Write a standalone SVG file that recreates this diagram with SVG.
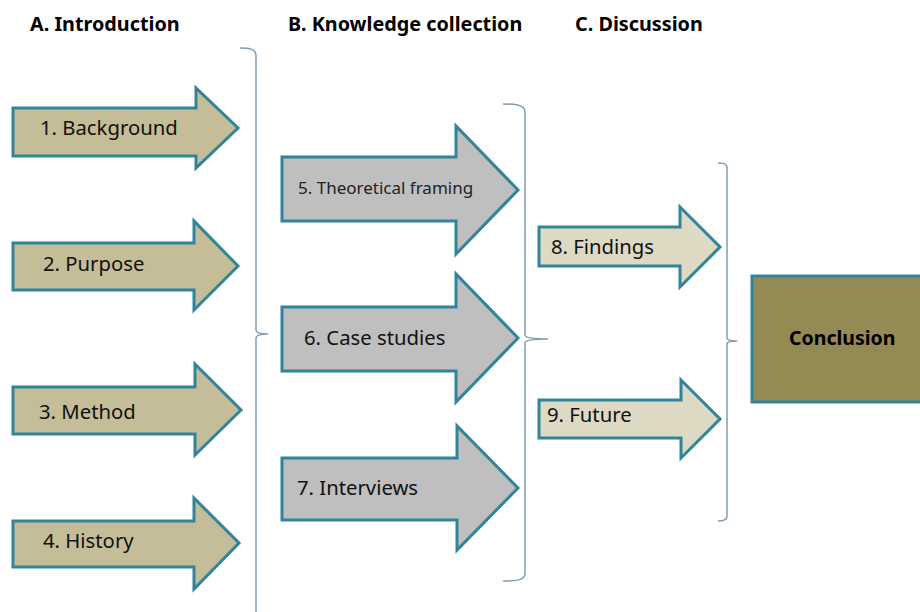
<svg xmlns="http://www.w3.org/2000/svg" width="920" height="612" viewBox="0 0 920 612">
  <style>
    .hdr { font-family: "Noto Sans", "Open Sans", sans-serif; font-weight: bold; font-size: 19.8px; fill: #000; }
    .lbl { font-family: "Noto Sans", "Open Sans", sans-serif; font-size: 20.3px; fill: #111; }
    .lbl-sm { font-family: "Noto Sans", "Open Sans", sans-serif; font-size: 17px; fill: #222; }
    .arrow { stroke: #31849B; stroke-width: 3; stroke-linejoin: miter; }
    .tan { fill: #C4BD97; }
    .grey { fill: #BFBFBF; }
    .light { fill: #DDD9C3; }
    .brace { fill: none; stroke: #7F9DB3; stroke-width: 1.5; }
    .concl { fill: #948A54; stroke: #31849B; stroke-width: 3; }
    .concl-txt { font-family: "Noto Sans", "Open Sans", sans-serif; font-weight: bold; font-size: 19.5px; fill: #000; }
  </style>

  <rect width="920" height="612" fill="#FFFFFF"/>

  <!-- column headings -->
  <g id="headings">
    <text class="hdr" x="30" y="31">A. Introduction</text>
    <text class="hdr" x="288" y="31">B. Knowledge collection</text>
    <text class="hdr" x="575" y="31">C. Discussion</text>
  </g>

  <!-- grouping braces -->
  <g id="connectors">
    <path class="brace" d="M240,48 C250,48 256,49 256,56 V330 Q256,334 268,334 Q256,334 256,338 V612"/>
    <path class="brace" d="M503,104 C513,104 525,104 525,112 V335 Q525,339 548,339 Q525,339 525,343 V574 C525,581 513,581 503,581"/>
    <path class="brace" d="M718,163 C722,163 727,163 727,168 V338 Q727,341 737,341 Q727,341 727,344 V516 C727,520 722,521 718,521"/>
  </g>

  <!-- A. Introduction -->
  <g id="n1">
    <polygon class="arrow tan" points="13,108 196,108 196,88 238,128 196,168 196,156 13,156"/>
    <text class="lbl" x="40" y="135">1. Background</text>
  </g>
  <g id="n2">
    <polygon class="arrow tan" points="13,243 194,243 194,221 238,266 194,310 194,290 13,290"/>
    <text class="lbl" x="43" y="271">2. Purpose</text>
  </g>
  <g id="n3">
    <polygon class="arrow tan" points="13,387 195,387 195,364 241,410 195,455 195,434 13,434"/>
    <text class="lbl" x="39" y="419">3. Method</text>
  </g>
  <g id="n4">
    <polygon class="arrow tan" points="13,521 194,521 194,498 239,543 194,589 194,567 13,567"/>
    <text class="lbl" x="43" y="548">4. History</text>
  </g>

  <!-- B. Knowledge collection -->
  <g id="n5">
    <polygon class="arrow grey" points="282,157 456,157 456,126 518,190 456,254 456,221 282,221"/>
    <text class="lbl-sm" x="298" y="194">5. Theoretical framing</text>
  </g>
  <g id="n6">
    <polygon class="arrow grey" points="282,307 456,307 456,274 518,338 456,402 456,371 282,371"/>
    <text class="lbl" x="304" y="345">6. Case studies</text>
  </g>
  <g id="n7">
    <polygon class="arrow grey" points="282,458 457,458 457,426 518,488 457,550 457,520 282,520"/>
    <text class="lbl" x="297" y="495">7. Interviews</text>
  </g>

  <!-- C. Discussion -->
  <g id="n8">
    <polygon class="arrow light" points="539,227 680,227 680,207 720,247 680,287 680,266 539,266"/>
    <text class="lbl" x="551" y="254">8. Findings</text>
  </g>
  <g id="n9">
    <polygon class="arrow light" points="539,400 681,400 681,380 720,419 681,458 681,438 539,438"/>
    <text class="lbl" x="547" y="422">9. Future</text>
  </g>

  <!-- Conclusion -->
  <g id="conclusion">
    <rect class="concl" x="752" y="276" width="180" height="126"/>
    <text class="concl-txt" x="789" y="345">Conclusion</text>
  </g>
</svg>
